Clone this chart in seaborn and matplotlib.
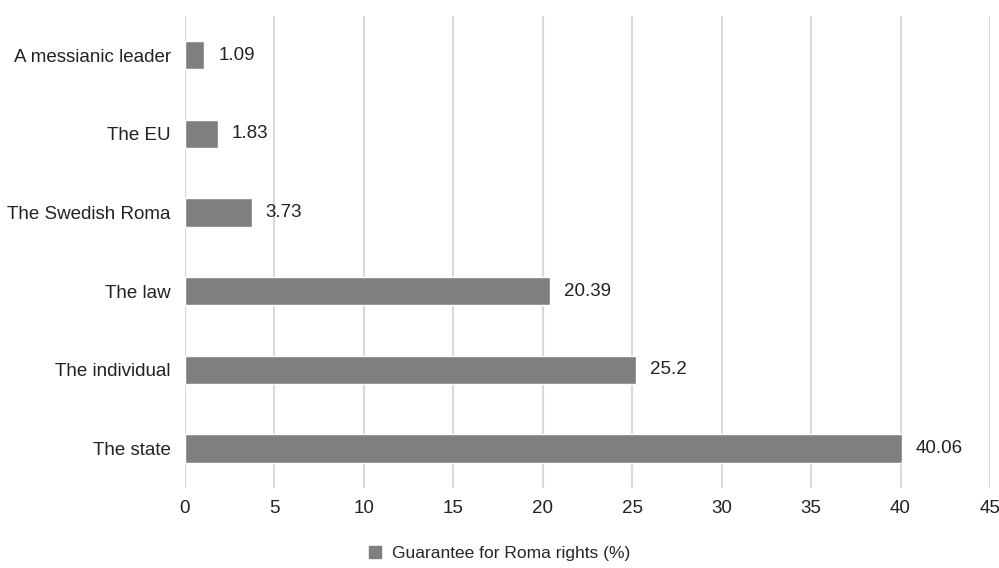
import matplotlib.pyplot as plt
import seaborn as sns
import pandas as pd

categories = ["A messianic leader", "The EU", "The Swedish Roma",
              "The law", "The individual", "The state"]
values = [1.09, 1.83, 3.73, 20.39, 25.2, 40.06]
value_labels = ["1.09", "1.83", "3.73", "20.39", "25.2", "40.06"]
x_ticks = [0, 5, 10, 15, 20, 25, 30, 35, 40, 45]
series_name = "Guarantee for Roma rights (%)"

sns.set_style("white")
plt.rcParams["font.family"] = ["Liberation Sans", "DejaVu Sans"]

df = pd.DataFrame({"category": categories, "value": values, "series": series_name})

fig = plt.figure(figsize=(9.99, 5.68), dpi=100)
ax = fig.add_axes([0.185, 0.141, 0.806, 0.831])

bar_color = "#7f7f82"
sns.barplot(data=df, x="value", y="category", hue="series", orient="h",
            palette=[bar_color], width=0.36, ax=ax, legend=False, zorder=3)

for i, (v, lab) in enumerate(zip(values, value_labels)):
    ax.annotate(lab, xy=(v, i), xytext=(10, 0), textcoords="offset points",
                va="center", ha="left", fontsize=13.5, color="#222222")

ax.set_xlim(0, 45)
ax.set_ylim(5.5, -0.5)
ax.set_xticks(x_ticks)
ax.set_xticklabels([str(t) for t in x_ticks], fontsize=13.5, color="#222222")
ax.tick_params(axis="y", labelsize=13.5, labelcolor="#222222", length=0, pad=10)
ax.tick_params(axis="x", length=0, pad=9)
ax.set_xlabel("")
ax.set_ylabel("")
ax.xaxis.grid(True, color="#d9d9d9", linewidth=1.5, zorder=0)
ax.set_axisbelow(True)
for s in ax.spines.values():
    s.set_visible(False)

handle = plt.Rectangle((0, 0), 1, 1, color=bar_color)
fig.legend([handle], [series_name], loc="center", bbox_to_anchor=(0.5, 0.026),
           frameon=False, fontsize=12.5, handlelength=0.7, handleheight=0.7,
           handletextpad=0.6)

fig.savefig("out.png", dpi=100)
